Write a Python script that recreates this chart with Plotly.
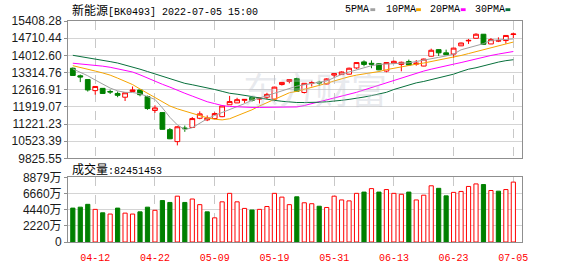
import plotly.graph_objects as go

# ---------------- data ----------------
dates = ["04-07", "04-08", "04-11", "04-12", "04-13", "04-14", "04-15", "04-18", "04-19", "04-20",
         "04-21", "04-22", "04-25", "04-26", "04-27", "04-28", "04-29", "05-05", "05-06", "05-09",
         "05-10", "05-11", "05-12", "05-13", "05-16", "05-17", "05-18", "05-19", "05-20", "05-23",
         "05-24", "05-25", "05-26", "05-27", "05-30", "05-31", "06-01", "06-02", "06-06", "06-07",
         "06-08", "06-09", "06-10", "06-13", "06-14", "06-15", "06-16", "06-17", "06-20", "06-21",
         "06-22", "06-23", "06-24", "06-27", "06-28", "06-29", "06-30", "07-01", "07-04", "07-05"]

opens = [13490, 13183, 13029, 12580, 12672, 12545, 12465, 12312, 12542, 12607,
         12338, 11774, 11686, 10995, 10508, 11061, 11084, 11456, 11391, 11444,
         11521, 12005, 12081, 12185, 12300, 12235, 12312, 12235, 12826, 12952,
         13067, 12503, 12880, 12920, 12849, 13209, 13232, 13248, 13501, 13747,
         13690, 13670, 13374, 13693, 13643, 13760, 13655, 13578, 13977, 14245,
         14115, 14065, 14399, 14600, 14706, 14871, 14476, 14590, 14614, 14860]
highs = [13520, 13233, 13040, 12760, 12680, 12619, 12542, 12500, 12749, 12610,
         12377, 11982, 11700, 11060, 11138, 11160, 11506, 11736, 11571, 11698,
         11993, 12365, 12288, 12230, 12365, 12295, 12492, 12740, 12925, 13035,
         13106, 12880, 12979, 12979, 13080, 13280, 13360, 13515, 13730, 13808,
         13808, 13700, 13730, 13800, 13760, 13840, 13823, 13880, 14284, 14260,
         14245, 14320, 14530, 14679, 14909, 14880, 14717, 14744, 14830, 14936]
lows = [13180, 12926, 12542, 12415, 12460, 12442, 12312, 12158, 12540, 12350,
        11801, 11675, 11000, 10610, 10355, 10907, 11080, 11418, 11341, 11430,
        11500, 12000, 12075, 12081, 12135, 12058, 12235, 12185, 12787, 12876,
        12550, 12465, 12749, 12772, 12840, 13106, 13225, 13240, 13463, 13566,
        13490, 13410, 13325, 13680, 13363, 13600, 13593, 13570, 13970, 13988,
        14030, 13912, 14390, 14476, 14700, 14455, 14470, 14552, 14487, 14717]
closes = [13195, 13133, 12607, 12749, 12465, 12525, 12388, 12492, 12607, 12415,
          11851, 11878, 11007, 10623, 11111, 11034, 11444, 11636, 11467, 11648,
          11955, 12135, 12212, 12223, 12185, 12288, 12427, 12722, 12914, 13029,
          12557, 12876, 12900, 12895, 13056, 13271, 13336, 13490, 13720, 13643,
          13655, 13424, 13720, 13770, 13731, 13620, 13693, 13862, 14219, 14115,
          14038, 14307, 14514, 14620, 14871, 14460, 14652, 14610, 14821, 14880]

ma5 = [13463, 13336, 13183, 13010, 12837, 12684, 12569, 12511, 12504, 12454,
       12339, 12224, 11878, 11495, 11188, 10996, 11072, 11264, 11437, 11571,
       11686, 11801, 11917, 12051, 12185, 12281, 12377, 12492, 12588, 12684,
       12761, 12818, 12876, 12914, 12972, 13106, 13240, 13336, 13432, 13528,
       13593, 13643, 13670, 13682, 13693, 13708, 13758, 13816, 13854, 13931,
       13989, 14065, 14238, 14315, 14411, 14487, 14622, 14641, 14660, 14679]
ma10 = [13593, 13528, 13463, 13375, 13298, 13210, 13087, 12972, 12826, 12646,
        12473, 12312, 12147, 11955, 11840, 11744, 11648, 11552, 11475, 11418,
        11391, 11437, 11552, 11667, 11801, 11955, 12089, 12212, 12358, 12492,
        12550, 12626, 12703, 12799, 12876, 12972, 13068, 13144, 13210, 13260,
        13298, 13355, 13432, 13490, 13567, 13616, 13655, 13701, 13758, 13808,
        13873, 13939, 14008, 14085, 14161, 14230, 14315, 14391, 14468, 14553]
ma20 = [13693, 13670, 13643, 13613, 13574, 13528, 13471, 13413, 13336, 13221,
        13087, 12953, 12837, 12722, 12588, 12473, 12358, 12243, 12128, 12051,
        11974, 11936, 11917, 11905, 11897, 11897, 11897, 11897, 11897, 11897,
        11917, 11974, 12051, 12128, 12185, 12281, 12358, 12435, 12511, 12607,
        12703, 12818, 12914, 12991, 13087, 13202, 13298, 13375, 13451, 13509,
        13586, 13655, 13720, 13797, 13854, 13931, 14008, 14065, 14123, 14169]
ma30 = [14015, 13969, 13923, 13873, 13816, 13758, 13701, 13624, 13547, 13451,
        13355, 13260, 13164, 13068, 12972, 12876, 12818, 12761, 12703, 12626,
        12550, 12473, 12435, 12396, 12339, 12281, 12224, 12185, 12147, 12108,
        12097, 12097, 12097, 12108, 12128, 12147, 12185, 12224, 12262, 12319,
        12377, 12435, 12511, 12626, 12722, 12799, 12895, 12953, 13029, 13087,
        13164, 13248, 13355, 13451, 13509, 13593, 13662, 13739, 13797, 13835]

volume_wan = [4666, 4795, 5184, 4493, 4018, 3845, 4666, 3974, 3845, 4147,
              4795, 4363, 5702, 5443, 6307, 5443, 5918, 5141, 4147, 3326,
              5529, 6696, 5529, 4622, 4406, 4493, 4882, 6696, 6178, 5141,
              6221, 5400, 5270, 4925, 4752, 6307, 5788, 5659, 6696, 6869,
              7348, 6869, 7219, 6696, 6571, 6869, 5788, 6441, 7737, 7387,
              6350, 6830, 6960, 7646, 7996, 7906, 7089, 6998, 7219, 8245]
# 1 = close above previous close (red), 0 = below (green)
volume_up = [0, 0, 0, 1, 0, 1, 0, 1, 1, 0,
             0, 1, 0, 0, 1, 0, 1, 1, 0, 1,
             1, 1, 1, 1, 0, 1, 1, 1, 1, 1,
             0, 1, 1, 0, 1, 1, 1, 1, 1, 0,
             1, 0, 1, 1, 1, 0, 1, 1, 1, 0,
             0, 1, 1, 1, 1, 0, 1, 0, 1, 1]

tick_dates = ["04-12", "04-22", "05-09", "05-19", "05-31", "06-13", "06-23", "07-05"]
price_ticks = [9825.55, 10523.39, 11221.23, 11919.07, 12616.91, 13314.76, 14012.60, 14710.44, 15408.28]
vol_ticks = [0, 2220, 4440, 6660, 8879]
vol_tick_labels = ["0", "2220万", "4440万", "6660万", "8879万"]
ma_names = ["5PMA", "10PMA", "20PMA", "30PMA"]
title_name = "新能源"
title_code = "[BK0493] 2022-07-05 15:00"
last_volume_text = "82451453"

# ---------------- style ----------------
RED = "#ff0000"
GREEN = "#008000"
MA_COLORS = ["#a0a0a0", "#f5a400", "#ff00ff", "#08703c"]
GRID = "#d4d4d4"
VGRID = "#c8c8c8"
BORDER = "#8f8f8f"
W, H = 578, 276
L, R, T, B = 55, 56, 21, 21


def px(x):
    return (x - L) / (W - L - R)


def py(y):
    return (H - B - y) / (H - T - B)


fig = go.Figure()

fig.add_trace(go.Candlestick(
    x=dates, open=opens, high=highs, low=lows, close=closes,
    increasing=dict(line=dict(color=RED, width=1), fillcolor="#ffffff"),
    decreasing=dict(line=dict(color=GREEN, width=1), fillcolor=GREEN),
    whiskerwidth=0, showlegend=False, xaxis="x", yaxis="y", hoverinfo="skip"))

for name, vals, col in zip(ma_names, [ma5, ma10, ma20, ma30], MA_COLORS):
    fig.add_trace(go.Scatter(x=dates, y=vals, mode="lines", name=name,
                             line=dict(color=col, width=1), showlegend=False,
                             xaxis="x", yaxis="y", hoverinfo="skip"))

fig.add_trace(go.Bar(
    x=dates, y=volume_wan, width=0.56,
    marker=dict(color=["#ffffff" if u else GREEN for u in volume_up],
                line=dict(color=[RED if u else GREEN for u in volume_up], width=1)),
    showlegend=False, xaxis="x2", yaxis="y2", hoverinfo="skip"))

xcommon = dict(type="category", range=[-0.645, 60.16], tickvals=tick_dates, ticktext=tick_dates,
               showgrid=True, gridcolor=VGRID, griddash="dash", gridwidth=1,
               showline=True, mirror=True, linecolor=BORDER, linewidth=1,
               zeroline=False, fixedrange=True)

fig.update_layout(
    width=W, height=H,
    margin=dict(l=L, r=R, t=T, b=B, pad=0),
    paper_bgcolor="white", plot_bgcolor="white",
    boxgap=0.36, boxgroupgap=0, boxmode="overlay",
    xaxis=dict(**xcommon, anchor="y", showticklabels=False, ticks="",
               rangeslider=dict(visible=False)),
    xaxis2=dict(**xcommon, anchor="y2", showticklabels=True,
                ticks="outside", ticklen=6, tickcolor="rgba(0,0,0,0)",
                tickfont=dict(family="Liberation Mono", size=10, color=RED)),
    yaxis=dict(domain=[0.3782, 1], range=[price_ticks[0], price_ticks[-1]],
               tickvals=price_ticks, ticktext=["%.2f" % v for v in price_ticks],
               showgrid=True, gridcolor=GRID, gridwidth=1,
               showline=True, mirror=True, linecolor=BORDER, linewidth=1,
               ticks="outside", ticklen=3, tickcolor=BORDER, zeroline=False,
               tickfont=dict(family="Liberation Sans", size=12, color="#1a1a1a")),
    yaxis2=dict(domain=[0, 0.2919], range=[0, vol_ticks[-1]],
                tickvals=vol_ticks, ticktext=vol_tick_labels,
                showgrid=True, gridcolor=GRID, gridwidth=1,
                showline=True, mirror=True, linecolor=BORDER, linewidth=1,
                ticks="outside", ticklen=3, tickcolor=BORDER, zeroline=False,
                tickfont=dict(family="Liberation Sans, Noto Sans CJK SC", size=12, color="#1a1a1a")),
    font=dict(family="Liberation Sans", size=12, color="#000"),
)

ann = []
# watermark
ann.append(dict(x=px(309), y=py(92), xref="paper", yref="paper", text="东方财富", showarrow=False,
                font=dict(family="Noto Sans CJK SC", size=36, color="rgba(190,194,206,0.35)"),
                xanchor="center", yanchor="middle"))
# title
ann.append(dict(x=px(57), y=py(9), xref="paper", yref="paper", showarrow=False,
                xanchor="left", yanchor="middle",
                text='<span style="font-family:Noto Sans CJK SC;font-size:12px">' + title_name +
                     '</span>' + title_code,
                font=dict(family="Liberation Mono", size=10, color="#000")))
# volume title
ann.append(dict(x=px(57), y=py(177.5), xref="paper", yref="paper", showarrow=False,
                xanchor="left", yanchor="middle",
                text='<span style="font-family:Noto Sans CJK SC;font-size:12px">成交量</span>:' + last_volume_text,
                font=dict(family="Liberation Mono", size=10, color="#000")))
# MA legend
legend_text_x = [338, 380, 425, 472]
legend_mark_x = [366, 413, 459, 505]
shapes = []
for name, col, tx, mx in zip(ma_names, MA_COLORS, legend_text_x, legend_mark_x):
    ann.append(dict(x=px(tx), y=py(9), xref="paper", yref="paper", showarrow=False,
                    xanchor="left", yanchor="middle", text=name,
                    font=dict(family="Liberation Mono", size=10, color="#000")))
    shapes.append(dict(type="rect", xref="paper", yref="paper",
                       x0=px(mx), x1=px(mx + 5), y0=py(10.5), y1=py(7.5),
                       fillcolor=col, line=dict(width=0)))

fig.update_layout(annotations=ann, shapes=shapes)

fig.write_html("out.html")
